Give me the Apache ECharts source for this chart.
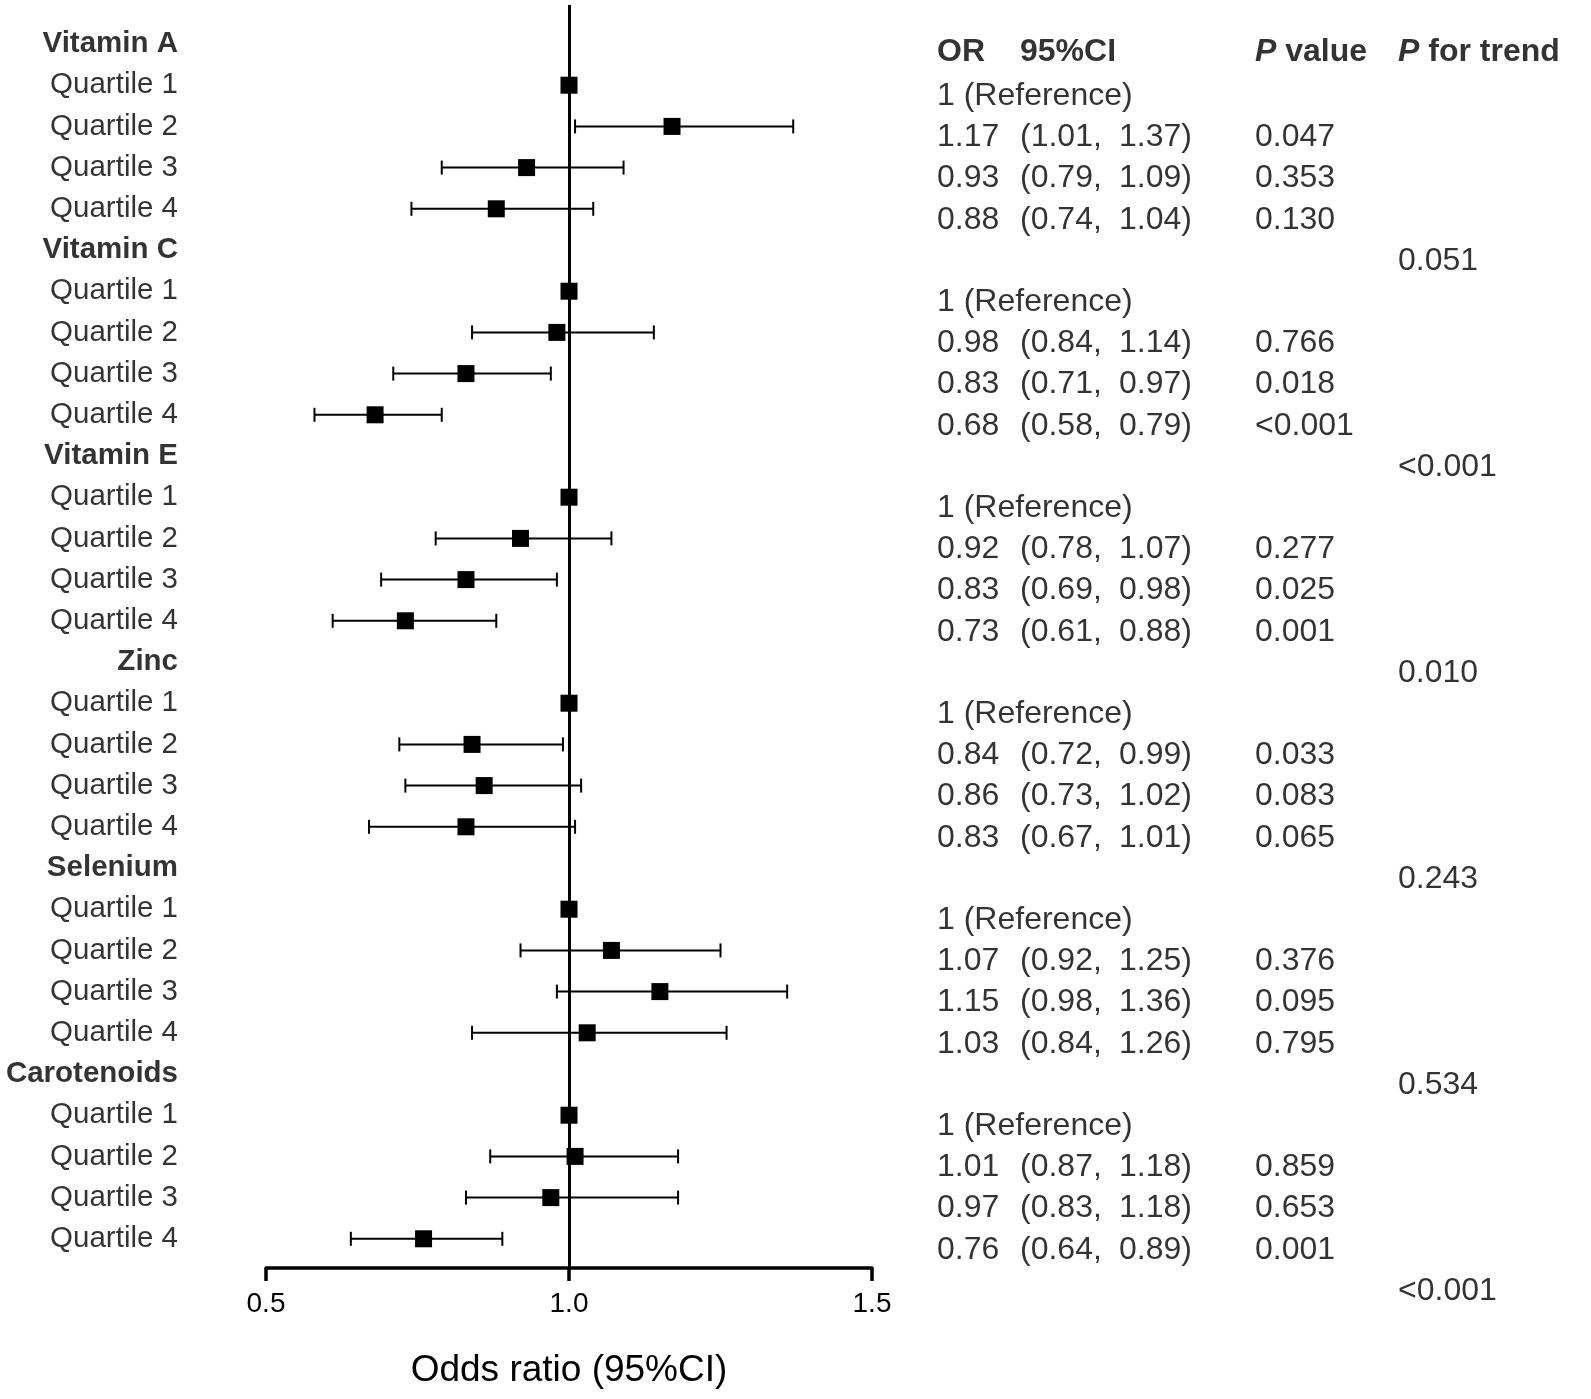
<!DOCTYPE html>
<html>
<head>
<meta charset="utf-8">
<script src="https://cdn.jsdelivr.net/npm/echarts@6/dist/echarts.min.js"></script>
<style>
  html, body { margin: 0; padding: 0; background: #fff; }
  #chart { width: 1591px; height: 1399px; }
</style>
</head>
<body>
<div id="chart"></div>
<script>
// data
const groups = ['Vitamin A', 'Vitamin C', 'Vitamin E', 'Zinc', 'Selenium', 'Carotenoids'];
const quartiles = ['Quartile 1', 'Quartile 2', 'Quartile 3', 'Quartile 4'];
const orValues = [
    [1, 1.17, 0.93, 0.88],
    [1, 0.98, 0.83, 0.68],
    [1, 0.92, 0.83, 0.73],
    [1, 0.84, 0.86, 0.83],
    [1, 1.07, 1.15, 1.03],
    [1, 1.01, 0.97, 0.76]
];
const ciLow = [
    [null, 1.01, 0.79, 0.74],
    [null, 0.84, 0.71, 0.58],
    [null, 0.78, 0.69, 0.61],
    [null, 0.72, 0.73, 0.67],
    [null, 0.92, 0.98, 0.84],
    [null, 0.87, 0.83, 0.64]
];
const ciHigh = [
    [null, 1.37, 1.09, 1.04],
    [null, 1.14, 0.97, 0.79],
    [null, 1.07, 0.98, 0.88],
    [null, 0.99, 1.02, 1.01],
    [null, 1.25, 1.36, 1.26],
    [null, 1.18, 1.18, 0.89]
];
const pValues = [
    [null, '0.047', '0.353', '0.130'],
    [null, '0.766', '0.018', '<0.001'],
    [null, '0.277', '0.025', '0.001'],
    [null, '0.033', '0.083', '0.065'],
    [null, '0.376', '0.095', '0.795'],
    [null, '0.859', '0.653', '0.001']
];
const pTrend = ['0.051', '<0.001', '0.010', '0.243', '0.534', '<0.001'];
const xTicks = [0.5, 1.0, 1.5];

// layout; rows run downward, so the y value of row r is -r
const FONT = "'Liberation Sans', Arial, sans-serif";
const PITCH = 41.2;
const PLOT_TOP = 5;
const ROW0_Y = 44;
const AXIS_Y = 1268;
const yTop = (ROW0_Y - PLOT_TOP) / PITCH;
const yBottom = yTop - (AXIS_Y - PLOT_TOP) / PITCH;
const TABLE_SHIFT = 11 / PITCH;
const HEAD_SHIFT = 8 / PITCH;
const COL_LABEL = 178, COL_OR = 937, COL_CI = 1020, COL_HI = 1192, COL_P = 1255, COL_TREND = 1398;

let pointData = [];
let leftLabels = [];
let tableLeft = [];
let tableRight = [];
let row = 0;
groups.forEach(function (g, gi) {
    leftLabels.push({ name: g, value: [COL_LABEL, -row], label: { fontWeight: 'bold' } });
    if (gi > 0) tableLeft.push({ name: pTrend[gi - 1], value: [COL_TREND, -row - TABLE_SHIFT] });
    row++;
    quartiles.forEach(function (q, qi) {
        leftLabels.push({ name: q, value: [COL_LABEL, -row] });
        pointData.push([orValues[gi][qi], -row, ciLow[gi][qi], ciHigh[gi][qi]]);
        let ty = -row - TABLE_SHIFT;
        if (ciLow[gi][qi] == null) {
            tableLeft.push({ name: orValues[gi][qi] + ' (Reference)', value: [COL_OR, ty] });
        } else {
            tableLeft.push({ name: orValues[gi][qi].toFixed(2), value: [COL_OR, ty] });
            tableLeft.push({ name: '(' + ciLow[gi][qi].toFixed(2) + ',', value: [COL_CI, ty] });
            tableRight.push({ name: ciHigh[gi][qi].toFixed(2) + ')', value: [COL_HI, ty] });
            tableLeft.push({ name: pValues[gi][qi], value: [COL_P, ty] });
        }
        row++;
    });
});
tableLeft.push({ name: pTrend[groups.length - 1], value: [COL_TREND, -row - TABLE_SHIFT] });

let headers = [
    { name: 'OR', value: [COL_OR, -HEAD_SHIFT] },
    { name: '95%CI', value: [COL_CI, -HEAD_SHIFT] },
    { name: '{i|P} value', value: [COL_P, -HEAD_SHIFT] },
    { name: '{i|P} for trend', value: [COL_TREND, -HEAD_SHIFT] }
];

function renderPoint(params, api) {
    let y = api.value(1);
    let c = api.coord([api.value(0), y]);
    let lo = api.value(2), hi = api.value(3);
    let children = [];
    let lineStyle = { stroke: '#000', lineWidth: 2 };
    if (lo != null && !isNaN(lo)) {
        let a = api.coord([lo, y]);
        let b = api.coord([hi, y]);
        children.push({ type: 'line', shape: { x1: a[0], y1: a[1], x2: b[0], y2: b[1] }, style: lineStyle });
        children.push({ type: 'line', shape: { x1: a[0], y1: a[1] - 7, x2: a[0], y2: a[1] + 7 }, style: lineStyle });
        children.push({ type: 'line', shape: { x1: b[0], y1: b[1] - 7, x2: b[0], y2: b[1] + 7 }, style: lineStyle });
    }
    children.push({ type: 'rect', shape: { x: c[0] - 8.5, y: c[1] - 8.5, width: 17, height: 17 }, style: { fill: '#000' } });
    return { type: 'group', children: children };
}

function textSeries(data, pos, size, extra) {
    return Object.assign({
        type: 'scatter',
        xAxisIndex: 1,
        yAxisIndex: 1,
        symbolSize: 0,
        silent: true,
        clip: false,
        data: data,
        label: {
            show: true,
            position: pos,
            distance: 0,
            formatter: '{b}',
            color: '#000',
            fontFamily: FONT,
            fontSize: size
        }
    }, extra || {});
}

let option = {
    backgroundColor: '#fff',
    animation: false,
    grid: [
        { left: 266, width: 606, top: PLOT_TOP, height: AXIS_Y - PLOT_TOP },
        { left: 0, width: 1591, top: PLOT_TOP, height: AXIS_Y - PLOT_TOP + 2 * PITCH }
    ],
    xAxis: [
        {
            type: 'value', gridIndex: 0, position: 'bottom',
            min: xTicks[0], max: xTicks[xTicks.length - 1], interval: 0.5,
            axisLine: { onZero: false, lineStyle: { color: '#000', width: 3.5 } },
            axisTick: { length: 13, lineStyle: { color: '#000', width: 3.5 } },
            axisLabel: { color: '#000', fontSize: 28, fontFamily: FONT, margin: 22,
                formatter: function (v) { return v.toFixed(1); } },
            splitLine: { show: false },
            name: 'Odds ratio (95%CI)',
            nameLocation: 'middle',
            nameGap: 84,
            nameTextStyle: { color: '#000', fontSize: 37, fontFamily: FONT }
        },
        { type: 'value', gridIndex: 1, min: 0, max: 1591, show: false }
    ],
    yAxis: [
        { type: 'value', gridIndex: 0, min: yBottom, max: yTop, show: false },
        { type: 'value', gridIndex: 1, min: yBottom - 2, max: yTop, show: false }
    ],
    series: [
        {
            type: 'custom',
            xAxisIndex: 0,
            yAxisIndex: 0,
            renderItem: renderPoint,
            encode: { x: [0, 2, 3], y: 1 },
            data: pointData,
            silent: true,
            markLine: {
                silent: true,
                symbol: 'none',
                label: { show: false },
                lineStyle: { color: '#000', width: 3, type: 'solid' },
                data: [{ xAxis: 1 }]
            }
        },
        textSeries(leftLabels, 'left', 29.5),
        textSeries(tableLeft, 'right', 32),
        textSeries(tableRight, 'left', 32),
        textSeries(headers, 'right', 32, {
            label: {
                show: true, position: 'right', distance: 0, formatter: '{b}',
                color: '#000', fontFamily: FONT, fontSize: 32, fontWeight: 'bold',
                rich: { i: { fontStyle: 'italic', fontWeight: 'bold', fontSize: 32, fontFamily: FONT, color: '#000' } }
            }
        })
    ]
};

let chart = echarts.init(document.getElementById('chart'));
chart.setOption(option);
</script>
</body>
</html>
